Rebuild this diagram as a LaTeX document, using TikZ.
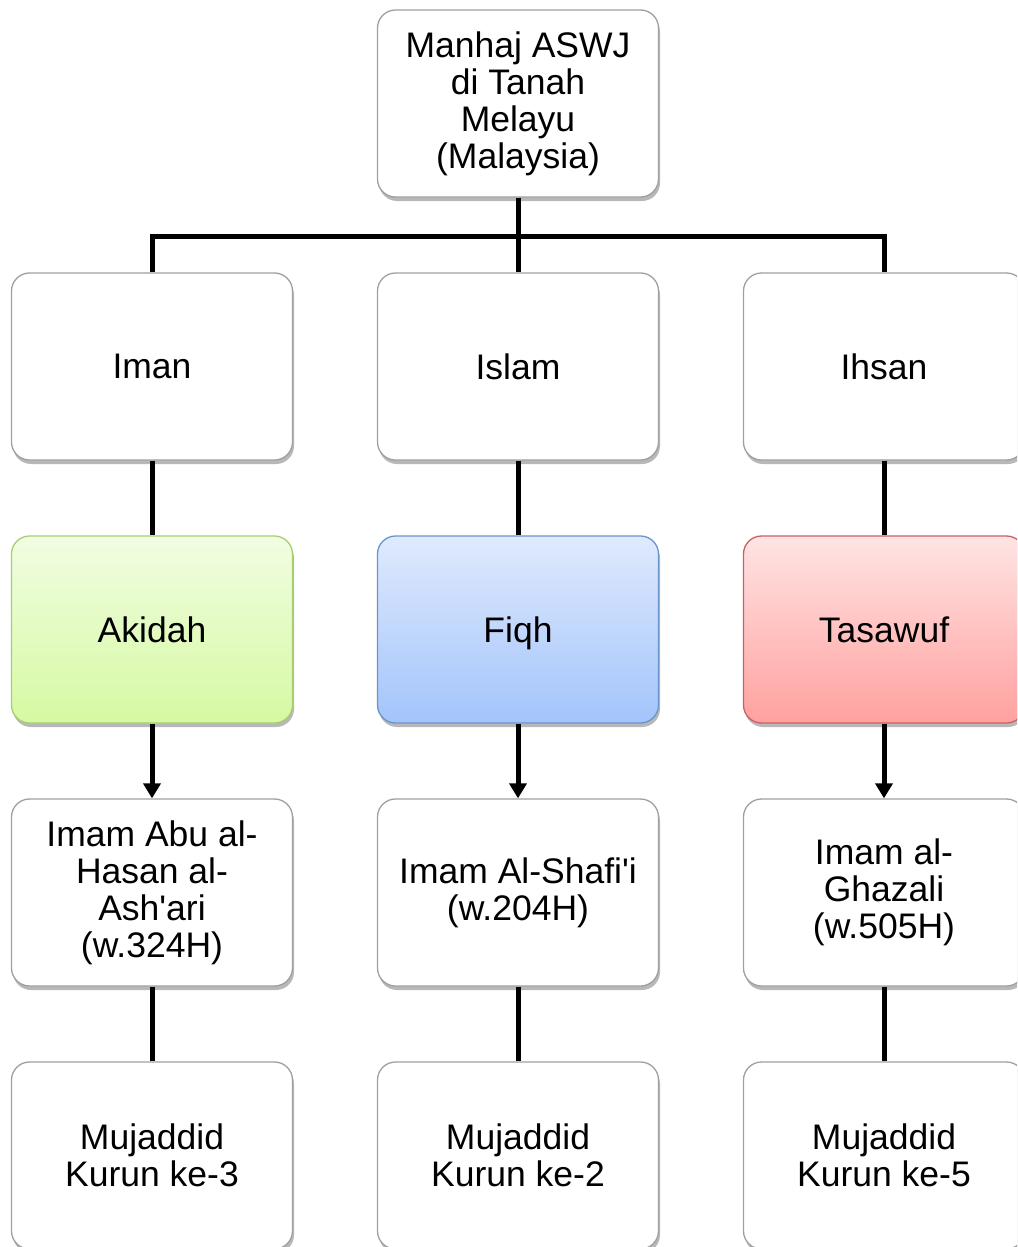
\documentclass[tikz,border=0pt]{standalone}
\usepackage{fontspec}
\setmainfont{Liberation Sans}[Ligatures=TeXOff]
\usetikzlibrary{arrows.meta,shadows}
\definecolor{boxgray}{HTML}{A0A0A0}
\definecolor{gTop}{HTML}{F1FDE2}
\definecolor{gBot}{HTML}{D6F9A2}
\definecolor{gLine}{HTML}{A7CF72}
\definecolor{bTop}{HTML}{DFEAFD}
\definecolor{bBot}{HTML}{A3C4FB}
\definecolor{bLine}{HTML}{6A95CB}
\definecolor{rTop}{HTML}{FFE4E4}
\definecolor{rBot}{HTML}{FFA19F}
\definecolor{rLine}{HTML}{C86262}
\tikzset{
  card/.style={rectangle, rounded corners=18pt, minimum width=281pt, minimum height=187pt,
    inner sep=0pt, align=center, draw=boxgray, line width=1.3pt, fill=white,
    font=\fontsize{35.5}{37}\selectfont,
    drop shadow={shadow xshift=1.5pt, shadow yshift=-4pt, opacity=0.28, fill=black}},
  greencard/.style={card, draw=gLine, top color=gTop, bottom color=gBot},
  bluecard/.style={card, draw=bLine, top color=bTop, bottom color=bBot},
  redcard/.style={card, draw=rLine, top color=rTop, bottom color=rBot},
  conn/.style={line width=5pt, black},
  arr/.style={conn, -{Triangle[width=17pt,length=15pt]}}
}
\begin{document}
\begin{tikzpicture}[x=1pt,y=-1pt]
\useasboundingbox (0,0) rectangle (1017,1247);
\clip (0,0) rectangle (1017,1247);
\fill[white] (0,0) rectangle (1017,1247);
\coordinate (bar) at (518,236);
\node[card] (top) at (518,103.5) {\raisebox{-1.5pt}{\parbox{260pt}{\centering Manhaj ASWJ\\di Tanah\\Melayu\\(Malaysia)}}};
\node[card] (iman) at (152,366.5) {Iman};
\node[card] (islam) at (518,366.5) {Islam};
\node[card] (ihsan) at (884,366.5) {Ihsan};
\node[greencard] (akidah) at (152,629.5) {Akidah};
\node[bluecard] (fiqh) at (518,629.5) {\raisebox{0pt}[\height][0pt]{Fiqh}};
\node[redcard] (tasawuf) at (884,629.5) {Tasawuf};
\node[card] (ashari) at (152,892.5) {Imam Abu al-\\Hasan al-\\Ash'ari\\(w.324H)};
\node[card] (shafii) at (518,892.5) {Imam Al-Shafi'i\\(w.204H)};
\node[card] (ghazali) at (884,892.5) {Imam al-\\Ghazali\\(w.505H)};
\node[card] (m3) at (152,1155.5) {Mujaddid\\Kurun ke-3};
\node[card] (m2) at (518,1155.5) {Mujaddid\\Kurun ke-2};
\node[card] (m5) at (884,1155.5) {Mujaddid\\Kurun ke-5};
% connectors
\draw[conn] (top.south) -- (bar);
\draw[conn] (bar) -- (islam.north);
\draw[conn, line join=miter] (iman.north) -- (iman.north |- bar) -- (ihsan.north |- bar) -- (ihsan.north);
\draw[conn] (iman.south) -- (akidah.north);
\draw[conn] (islam.south) -- (fiqh.north);
\draw[conn] (ihsan.south) -- (tasawuf.north);
\draw[arr] (akidah.south) -- (ashari.north);
\draw[arr] (fiqh.south) -- (shafii.north);
\draw[arr] (tasawuf.south) -- (ghazali.north);
\draw[conn] (ashari.south) -- (m3.north);
\draw[conn] (shafii.south) -- (m2.north);
\draw[conn] (ghazali.south) -- (m5.north);
\end{tikzpicture}
\end{document}
